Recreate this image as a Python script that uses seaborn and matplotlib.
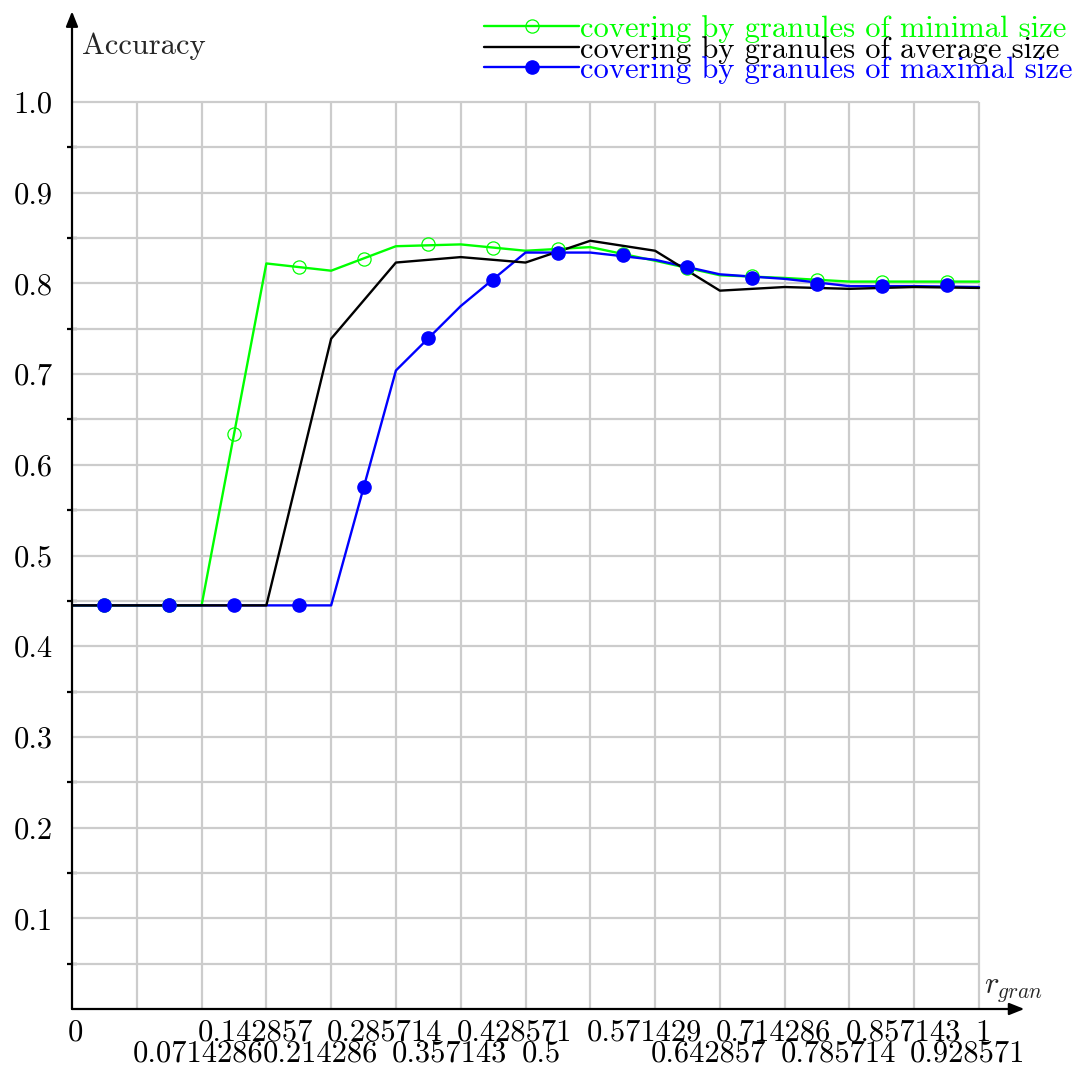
import numpy as np
import matplotlib
matplotlib.use("Agg")
import matplotlib.pyplot as plt
import matplotlib.transforms as mtransforms
from matplotlib.lines import Line2D
import seaborn as sns

# r_gran values: line vertices at k/14, marks halfway between them
r_steps = np.arange(15) / 14
r_marks = (np.arange(14) + 0.5) / 14

x_tick_labels = ["0", "0.0714286", "0.142857", "0.214286", "0.285714", "0.357143",
                 "0.428571", "0.5", "0.571429", "0.642857", "0.714286", "0.785714",
                 "0.857143", "0.928571", "1"]
y_ticks = [0.1, 0.2, 0.3, 0.4, 0.5, 0.6, 0.7, 0.8, 0.9, 1.0]
y_tick_labels = ["0.1", "0.2", "0.3", "0.4", "0.5", "0.6", "0.7", "0.8", "0.9", "1.0"]

min_line = [0.445, 0.445, 0.445, 0.822, 0.814, 0.841, 0.843, 0.836, 0.840, 0.825,
            0.809, 0.806, 0.802, 0.802, 0.802]
min_marks = [0.445, 0.445, 0.634, 0.818, 0.827, 0.843, 0.839, 0.838, 0.832, 0.817,
             0.808, 0.804, 0.802, 0.802]

avg_line = [0.445, 0.445, 0.445, 0.445, 0.739, 0.823, 0.829, 0.823, 0.847, 0.836,
            0.792, 0.796, 0.794, 0.796, 0.795]

max_line = [0.445, 0.445, 0.445, 0.445, 0.445, 0.704, 0.775, 0.834, 0.834, 0.826,
            0.810, 0.805, 0.797, 0.797, 0.796]
max_marks = [0.445, 0.445, 0.445, 0.445, 0.575, 0.740, 0.804, 0.834, 0.831, 0.818,
             0.806, 0.799, 0.797, 0.798]

labels = ["covering by granules of minimal size",
          "covering by granules of average size",
          "covering by granules of maximal size"]

green = "#00ff00"
blue = "#0000ff"
grid_col = "#cccccc"

sns.set_style("white")
plt.rcParams["font.family"] = ["cmr10", "DejaVu Serif"]
plt.rcParams["mathtext.fontset"] = "cm"
plt.rcParams["axes.unicode_minus"] = False
plt.rcParams["axes.formatter.use_mathtext"] = True

fig = plt.figure(figsize=(10.87, 10.72), dpi=100)
ax = fig.add_axes([72 / 1087, 63 / 1072, 1.05 * 907 / 1087, 1.1 * 907 / 1072])
ax.set_xlim(0, 1.05)
ax.set_ylim(0, 1.1)
for s in ax.spines.values():
    s.set_visible(False)

# grid only inside [0,1]x[0,1]
ax.vlines(r_steps[1:], 0, 1.0, color=grid_col, lw=1.6, zorder=1)
ax.hlines(np.arange(1, 21) * 0.05, 0, 1.0, color=grid_col, lw=1.6, zorder=1)

sns.lineplot(x=r_steps, y=min_line, color=green, lw=1.7, ax=ax, zorder=2)
sns.lineplot(x=r_steps, y=max_line, color=blue, lw=1.7, ax=ax, zorder=3)
sns.lineplot(x=r_steps, y=avg_line, color="black", lw=1.7, ax=ax, zorder=4)
ax.plot(r_marks, min_marks, ls="none", marker="o", ms=9.5, mfc="none",
        mec=green, mew=0.9, zorder=5)
ax.plot(r_marks, max_marks, ls="none", marker="o", ms=9.5, mfc=blue,
        mec=blue, zorder=6)

# axis arrows
arrow = dict(arrowstyle="-|>,head_length=0.45,head_width=0.18", color="black",
             lw=1.6, mutation_scale=20, shrinkA=0, shrinkB=0)
ax.annotate("", xy=(1.05, 0), xytext=(0, 0), arrowprops=arrow, annotation_clip=False)
ax.annotate("", xy=(0, 1.1), xytext=(0, 0), arrowprops=arrow, annotation_clip=False)

ax.set_xticks(r_steps)
ax.set_xticklabels(x_tick_labels, ha="left")
ax.set_yticks(y_ticks)
ax.set_yticklabels(y_tick_labels)
ax.set_yticks(np.arange(1, 20, 2) * 0.05, minor=True)
ax.tick_params(axis="both", which="major", direction="inout", length=14,
               width=1.6, color="black", labelsize=22, labelcolor="black")
ax.tick_params(axis="x", pad=0.5)
ax.tick_params(axis="y", pad=7)
ax.tick_params(axis="y", which="minor", direction="inout", length=7,
               width=1.6, color="black", left=True)
for i, tick in enumerate(ax.xaxis.get_major_ticks()):
    if i % 2 == 1:
        tick.set_pad(15.5)
shift = mtransforms.ScaledTranslation(-4 / 100, 0, fig.dpi_scale_trans)
for lab in ax.get_xticklabels():
    lab.set_transform(lab.get_transform() + shift)

ax.text(0.011, 1.061, "Accuracy", fontsize=22, ha="left", va="center")
ax.text(1.005, 0.006, r"$r_{gran}$", fontsize=22, ha="left", va="bottom")

handles = [
    Line2D([], [], color=green, lw=1.7, marker="o", ms=9.5, mfc="none", mec=green, mew=0.9),
    Line2D([], [], color="black", lw=1.7),
    Line2D([], [], color=blue, lw=1.7, marker="o", ms=9.5, mfc=blue, mec=blue),
]
fig.legend(handles, labels, loc="upper right", bbox_to_anchor=(1073 / 1087, 1 - 15 / 1072),
           frameon=False, fontsize=22, handlelength=3.1, handletextpad=0.05,
           labelspacing=-0.24, borderpad=0, borderaxespad=0, labelcolor="linecolor")

fig.savefig("out.png", dpi=100)
